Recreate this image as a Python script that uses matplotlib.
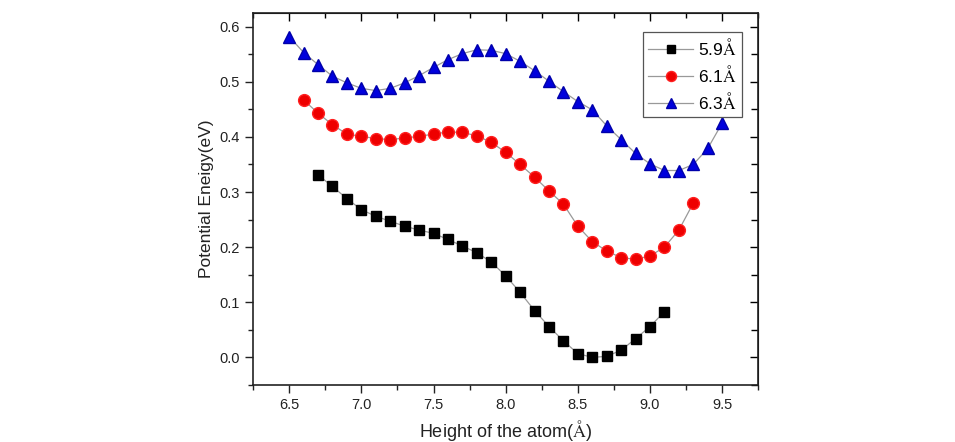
import matplotlib.pyplot as plt
import numpy as np

plt.rcParams['font.family'] = ['Liberation Sans', 'DejaVu Sans']
plt.rcParams['mathtext.fontset'] = 'stix'

# data
x59 = np.round(np.arange(6.7, 9.11, 0.1), 1)
y59 = [0.331, 0.310, 0.288, 0.268, 0.256, 0.247, 0.238, 0.231, 0.225, 0.214,
       0.202, 0.190, 0.173, 0.148, 0.118, 0.085, 0.056, 0.030, 0.007, 0.000,
       0.002, 0.013, 0.034, 0.056, 0.083]

x61 = np.round(np.arange(6.6, 9.31, 0.1), 1)
y61 = [0.467, 0.443, 0.422, 0.405, 0.401, 0.397, 0.395, 0.398, 0.401, 0.405,
       0.409, 0.408, 0.402, 0.390, 0.372, 0.350, 0.327, 0.302, 0.278, 0.238,
       0.210, 0.193, 0.181, 0.178, 0.184, 0.200, 0.231, 0.280]

x63 = np.round(np.arange(6.5, 9.51, 0.1), 1)
y63 = [0.582, 0.553, 0.531, 0.510, 0.498, 0.488, 0.484, 0.488, 0.498, 0.511,
       0.526, 0.540, 0.551, 0.558, 0.557, 0.551, 0.537, 0.520, 0.501, 0.482,
       0.464, 0.449, 0.420, 0.395, 0.370, 0.351, 0.339, 0.339, 0.350, 0.379,
       0.425]

AA = r'$\mathrm{\AA}$'
labels = ['5.9' + AA, '6.1' + AA, '6.3' + AA]

fig = plt.figure(figsize=(9.55, 4.42), dpi=100)
ax = fig.add_axes([0.265, 0.129, 0.529, 0.842])

ax.plot(x59, y59, '-', color='#999999', lw=0.9, marker='s', ms=7.5,
        mfc='black', mec='black', label=labels[0])
ax.plot(x61, y61, '-', color='#999999', lw=0.9, marker='o', ms=8.5,
        mfc='#ee0000', mec='#ff2020', label=labels[1])
ax.plot(x63, y63, '-', color='#999999', lw=0.9, marker='^', ms=9,
        mfc='#0000dd', mec='#0000aa', label=labels[2])

ax.set_xlim(6.25, 9.75)
ax.set_ylim(-0.05, 0.625)
ax.set_xticks([6.5, 7.0, 7.5, 8.0, 8.5, 9.0, 9.5])
ax.set_xticks(np.arange(6.25, 9.76, 0.25), minor=True)
ax.set_yticks([0.0, 0.1, 0.2, 0.3, 0.4, 0.5, 0.6])
ax.set_yticks(np.arange(-0.05, 0.626, 0.05), minor=True)
ax.xaxis.set_major_formatter(plt.FormatStrFormatter('%.1f'))
ax.yaxis.set_major_formatter(plt.FormatStrFormatter('%.1f'))

# Origin style: ticks out on left/bottom, in on top/right
ax.tick_params(which='both', direction='out', labelsize=10.5, colors='#222222')
ax.tick_params(which='major', length=6, width=1)
ax.tick_params(which='minor', length=3.5, width=1)
ax2 = ax.secondary_xaxis('top')
ax2.set_xticks(ax.get_xticks())
ax2.set_xticks(np.arange(6.25, 9.76, 0.25), minor=True)
ax2.tick_params(which='both', direction='in', labeltop=False)
ax2.tick_params(which='major', length=6, width=1)
ax2.tick_params(which='minor', length=3.5, width=1)
ay2 = ax.secondary_yaxis('right')
ay2.set_yticks([0.0, 0.1, 0.2, 0.3, 0.4, 0.5, 0.6])
ay2.set_yticks(np.arange(-0.05, 0.626, 0.05), minor=True)
ay2.tick_params(which='both', direction='in', labelright=False)
ay2.tick_params(which='major', length=6, width=1)
ay2.tick_params(which='minor', length=5, width=1)
for s in ax.spines.values():
    s.set_linewidth(1.2)
    s.set_color('#222222')

ax.set_xlabel('Height of the atom(' + AA + ')', fontsize=13, color='#222222')
ax.set_ylabel('Potential Eneigy(eV)', fontsize=12.5, color='#222222')

leg = ax.legend(loc='upper right', bbox_to_anchor=(0.968, 0.949), fontsize=12.5,
                fancybox=False, edgecolor='#555555', framealpha=1,
                handlelength=2.6, handletextpad=0.3, borderpad=0.3,
                labelspacing=0.35, markerscale=0.85, borderaxespad=0)
leg.get_frame().set_linewidth(0.9)

fig.savefig('out.png', dpi=100)
